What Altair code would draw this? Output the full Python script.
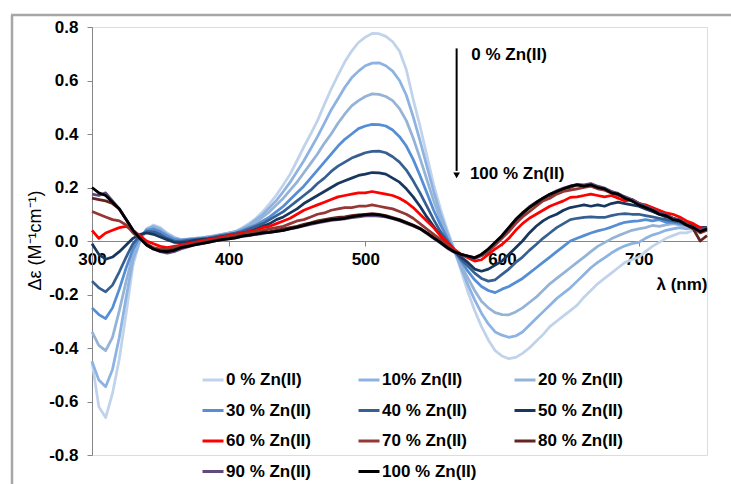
import altair as alt
import pandas as pd

# wavelength grid (nm)
wavelength = list(range(300, 755, 5))

labels = ["0 % Zn(II)", "10% Zn(II)", "20  % Zn(II)", "30 % Zn(II)", "40 % Zn(II)",
          "50 % Zn(II)", "60 % Zn(II)", "70 % Zn(II)", "80 % Zn(II)", "90 % Zn(II)",
          "100 % Zn(II)"]
colors = ["#c0d3ea", "#8db3e2", "#95b3d7", "#558ed5", "#376092", "#17375e",
          "#ff0000", "#953735", "#632523", "#604a7b", "#000000"]

zn0 = [-0.45, -0.62, -0.66, -0.57, -0.44, -0.27, -0.09, 0.00, 0.045, 0.06,
       0.05, 0.03, 0.015, 0.005, 0.008, 0.01, 0.012, 0.015, 0.02, 0.025,
       0.03, 0.036, 0.05, 0.066, 0.085, 0.11, 0.14, 0.172, 0.21, 0.25,
       0.30, 0.352, 0.40, 0.45, 0.51, 0.568, 0.62, 0.67, 0.71, 0.742,
       0.762, 0.776, 0.775, 0.765, 0.745, 0.71, 0.64, 0.53, 0.43, 0.32,
       0.21, 0.12, 0.04, -0.03, -0.11, -0.19, -0.26, -0.32, -0.37, -0.41,
       -0.43, -0.44, -0.435, -0.42, -0.40, -0.375, -0.35, -0.32, -0.30, -0.28,
       -0.26, -0.24, -0.21, -0.185, -0.16, -0.14, -0.12, -0.10, -0.08, -0.07,
       -0.06, -0.04, -0.02, -0.005, 0.01, 0.02, 0.03, 0.03, 0.04, 0.035,
       0.045]
zn10 = [-0.45, -0.52, -0.545, -0.48, -0.36, -0.21, -0.07, 0.00, 0.045, 0.055,
        0.045, 0.025, 0.012, 0.005, 0.006, 0.01, 0.012, 0.015, 0.018, 0.024,
        0.03, 0.035, 0.046, 0.06, 0.08, 0.10, 0.125, 0.152, 0.185, 0.22,
        0.26, 0.30, 0.345, 0.39, 0.44, 0.49, 0.532, 0.575, 0.61, 0.635,
        0.655, 0.665, 0.666, 0.655, 0.635, 0.60, 0.545, 0.465, 0.375, 0.28,
        0.185, 0.10, 0.03, -0.035, -0.10, -0.163, -0.22, -0.27, -0.31, -0.34,
        -0.352, -0.36, -0.355, -0.34, -0.315, -0.29, -0.265, -0.24, -0.215, -0.195,
        -0.175, -0.15, -0.125, -0.10, -0.08, -0.063, -0.045, -0.03, -0.018, -0.01,
        -0.005, 0.01, 0.022, 0.03, 0.04, 0.045, 0.05, 0.045, 0.05, 0.04,
        0.05]
zn20 = [-0.34, -0.39, -0.41, -0.36, -0.26, -0.15, -0.05, 0.01, 0.043, 0.05,
        0.04, 0.022, 0.01, 0.004, 0.006, 0.01, 0.012, 0.015, 0.02, 0.025,
        0.03, 0.034, 0.045, 0.055, 0.07, 0.09, 0.11, 0.135, 0.16, 0.19,
        0.22, 0.255, 0.29, 0.325, 0.365, 0.40, 0.44, 0.475, 0.505, 0.525,
        0.54, 0.55, 0.548, 0.54, 0.525, 0.495, 0.45, 0.385, 0.31, 0.23,
        0.15, 0.08, 0.02, -0.035, -0.09, -0.138, -0.185, -0.225, -0.25, -0.268,
        -0.275, -0.276, -0.265, -0.25, -0.23, -0.21, -0.185, -0.16, -0.14, -0.12,
        -0.10, -0.08, -0.06, -0.04, -0.02, -0.006, 0.008, 0.02, 0.03, 0.04,
        0.045, 0.05, 0.058, 0.055, 0.06, 0.065, 0.06, 0.055, 0.05, 0.045,
        0.05]
zn30 = [-0.25, -0.275, -0.29, -0.25, -0.18, -0.10, -0.03, 0.015, 0.04, 0.045,
        0.035, 0.02, 0.006, 0.002, 0.005, 0.007, 0.01, 0.013, 0.017, 0.022,
        0.025, 0.03, 0.04, 0.05, 0.06, 0.075, 0.09, 0.11, 0.13, 0.155,
        0.18, 0.205, 0.235, 0.265, 0.295, 0.325, 0.355, 0.38, 0.40, 0.42,
        0.43, 0.436, 0.435, 0.43, 0.415, 0.39, 0.355, 0.305, 0.245, 0.18,
        0.115, 0.06, 0.01, -0.035, -0.075, -0.113, -0.145, -0.17, -0.185, -0.193,
        -0.18, -0.17, -0.155, -0.14, -0.12, -0.10, -0.08, -0.06, -0.04, -0.02,
        0.0, 0.01, 0.02, 0.03, 0.038, 0.044, 0.052, 0.062, 0.07, 0.073,
        0.075, 0.08, 0.075, 0.08, 0.07, 0.07, 0.065, 0.06, 0.055, 0.05,
        0.05]
zn40 = [-0.15, -0.175, -0.19, -0.165, -0.115, -0.06, -0.01, 0.02, 0.035, 0.035,
        0.025, 0.01, 0.0, -0.002, 0.002, 0.005, 0.008, 0.01, 0.015, 0.02,
        0.025, 0.03, 0.035, 0.045, 0.055, 0.065, 0.08, 0.095, 0.11, 0.13,
        0.15, 0.17, 0.19, 0.215, 0.235, 0.26, 0.28, 0.295, 0.31, 0.32,
        0.33, 0.335, 0.336, 0.33, 0.315, 0.295, 0.265, 0.225, 0.18, 0.13,
        0.08, 0.035, 0.0, -0.036, -0.068, -0.094, -0.12, -0.14, -0.15, -0.145,
        -0.125, -0.105, -0.08, -0.06, -0.035, -0.013, 0.01, 0.03, 0.05, 0.065,
        0.08, 0.085, 0.088, 0.09, 0.088, 0.088, 0.095, 0.10, 0.102, 0.10,
        0.10, 0.095, 0.09, 0.085, 0.08, 0.075, 0.07, 0.06, 0.055, 0.05,
        0.05]
zn50 = [-0.01, -0.05, -0.068, -0.06, -0.04, -0.015, 0.01, 0.025, 0.03, 0.025,
        0.015, 0.005, -0.005, -0.006, -0.003, 0.002, 0.005, 0.008, 0.012, 0.016,
        0.02, 0.025, 0.03, 0.035, 0.045, 0.055, 0.065, 0.08, 0.09, 0.105,
        0.12, 0.14, 0.155, 0.17, 0.185, 0.20, 0.215, 0.225, 0.235, 0.245,
        0.25, 0.256, 0.255, 0.25, 0.235, 0.22, 0.195, 0.165, 0.13, 0.09,
        0.055, 0.02, -0.01, -0.037, -0.06, -0.08, -0.105, -0.113, -0.105, -0.09,
        -0.075, -0.05, -0.025, 0.0, 0.03, 0.055, 0.075, 0.09, 0.10, 0.115,
        0.125, 0.13, 0.135, 0.13, 0.135, 0.13, 0.14, 0.145, 0.14, 0.135,
        0.13, 0.12, 0.11, 0.10, 0.09, 0.085, 0.075, 0.065, 0.06, 0.05,
        0.05]
zn60 = [0.04, 0.01, 0.03, 0.04, 0.05, 0.055, 0.04, 0.02, 0.0, -0.01,
        -0.02, -0.025, -0.02, -0.015, -0.01, -0.005, 0.0, 0.005, 0.01, 0.015,
        0.02, 0.025, 0.03, 0.035, 0.04, 0.05, 0.055, 0.065, 0.075, 0.085,
        0.10, 0.115, 0.125, 0.135, 0.145, 0.155, 0.165, 0.17, 0.175, 0.18,
        0.18, 0.185, 0.18, 0.175, 0.17, 0.16, 0.145, 0.125, 0.10, 0.075,
        0.05, 0.02, -0.005, -0.03, -0.05, -0.063, -0.075, -0.07, -0.05, -0.03,
        -0.013, 0.01, 0.04, 0.065, 0.085, 0.10, 0.115, 0.13, 0.14, 0.15,
        0.163, 0.165, 0.17, 0.175, 0.17, 0.165, 0.17, 0.16, 0.15, 0.155,
        0.14, 0.135, 0.125, 0.115, 0.105, 0.10, 0.09, 0.075, 0.065, 0.05,
        0.045]
zn70 = [0.11, 0.10, 0.09, 0.08, 0.075, 0.06, 0.03, 0.01, -0.01, -0.025,
        -0.03, -0.03, -0.025, -0.02, -0.015, -0.01, -0.005, 0.0, 0.005, 0.01,
        0.015, 0.02, 0.025, 0.03, 0.035, 0.04, 0.045, 0.05, 0.055, 0.065,
        0.075, 0.08, 0.09, 0.10, 0.105, 0.115, 0.12, 0.125, 0.125, 0.13,
        0.13, 0.135, 0.13, 0.125, 0.12, 0.11, 0.10, 0.085, 0.065, 0.045,
        0.025, 0.005, -0.015, -0.035, -0.05, -0.058, -0.065, -0.055, -0.04, -0.015,
        0.01, 0.035, 0.065, 0.09, 0.11, 0.13, 0.15, 0.16, 0.175, 0.185,
        0.19, 0.195, 0.20, 0.205, 0.195, 0.19, 0.18, 0.17, 0.165, 0.15,
        0.14, 0.13, 0.12, 0.105, 0.10, 0.085, 0.08, 0.065, 0.05, 0.03,
        0.04]
zn80 = [0.16, 0.155, 0.15, 0.14, 0.12, 0.08, 0.04, 0.01, -0.015, -0.03,
        -0.035, -0.037, -0.032, -0.025, -0.02, -0.012, -0.008, -0.003, 0.002, 0.006,
        0.01, 0.015, 0.02, 0.022, 0.027, 0.032, 0.035, 0.04, 0.045, 0.05,
        0.055, 0.062, 0.068, 0.075, 0.08, 0.085, 0.088, 0.09, 0.095, 0.098,
        0.10, 0.102, 0.10, 0.095, 0.088, 0.08, 0.07, 0.06, 0.048, 0.03,
        0.012, -0.005, -0.025, -0.04, -0.05, -0.056, -0.062, -0.05, -0.03, -0.008,
        0.018, 0.048, 0.078, 0.10, 0.125, 0.14, 0.16, 0.17, 0.185, 0.195,
        0.20, 0.21, 0.205, 0.21, 0.20, 0.195, 0.185, 0.175, 0.16, 0.155,
        0.14, 0.125, 0.115, 0.105, 0.095, 0.085, 0.075, 0.06, 0.045, 0.0,
        0.02]
zn90 = [0.175, 0.17, 0.18, 0.15, 0.12, 0.08, 0.04, 0.01, -0.015, -0.03,
        -0.04, -0.045, -0.04, -0.03, -0.022, -0.015, -0.01, -0.005, 0.0, 0.005,
        0.008, 0.012, 0.017, 0.02, 0.025, 0.028, 0.032, 0.036, 0.04, 0.045,
        0.05, 0.056, 0.062, 0.068, 0.072, 0.077, 0.08, 0.083, 0.087, 0.09,
        0.094, 0.095, 0.093, 0.09, 0.083, 0.076, 0.066, 0.056, 0.045, 0.028,
        0.01, -0.008, -0.027, -0.042, -0.052, -0.058, -0.065, -0.052, -0.032, -0.008,
        0.02, 0.05, 0.08, 0.105, 0.128, 0.145, 0.16, 0.175, 0.188, 0.198,
        0.205, 0.212, 0.21, 0.215, 0.205, 0.198, 0.185, 0.178, 0.165, 0.155,
        0.142, 0.13, 0.118, 0.105, 0.098, 0.085, 0.078, 0.062, 0.052, 0.04,
        0.05]
zn100 = [0.20, 0.18, 0.17, 0.145, 0.12, 0.08, 0.04, 0.01, -0.015, -0.03,
         -0.038, -0.04, -0.035, -0.025, -0.02, -0.015, -0.01, -0.005, 0.0, 0.005,
         0.008, 0.012, 0.018, 0.022, 0.026, 0.03, 0.032, 0.036, 0.04, 0.046,
         0.052, 0.058, 0.066, 0.07, 0.075, 0.08, 0.082, 0.085, 0.09, 0.095,
         0.098, 0.10, 0.098, 0.092, 0.085, 0.078, 0.068, 0.058, 0.046, 0.03,
         0.012, -0.005, -0.025, -0.04, -0.05, -0.056, -0.063, -0.05, -0.03, -0.005,
         0.02, 0.05, 0.08, 0.105, 0.125, 0.144, 0.16, 0.175, 0.185, 0.195,
         0.205, 0.21, 0.205, 0.21, 0.20, 0.195, 0.18, 0.175, 0.16, 0.15,
         0.135, 0.125, 0.115, 0.10, 0.095, 0.08, 0.075, 0.06, 0.05, 0.035,
         0.045]

series = [zn0, zn10, zn20, zn30, zn40, zn50, zn60, zn70, zn80, zn90, zn100]

# annotation (arrow + texts)
arrow_x = [566.8]
arrow_top = [0.72]
arrow_bottom = [0.262]
arrow_tip = [0.245]
note_x = [577.5, 576.5]
note_y = [0.695, 0.252]
note_text = ["0 % Zn(II)", "100 % Zn(II)"]

rows = []
for lab, vals in zip(labels, series):
    for w, v in zip(wavelength, vals):
        rows.append({"wl": w, "de": v, "series": lab})
df = pd.DataFrame(rows)

FONT = "Liberation Sans"

xscale = alt.Scale(domain=[300, 750], nice=False, zero=False)
yscale = alt.Scale(domain=[-0.8, 0.8], nice=False, zero=False)

lines = alt.Chart(df).mark_line(strokeWidth=2.75, strokeJoin="round").encode(
    x=alt.X("wl:Q", scale=xscale,
            axis=alt.Axis(values=[300, 400, 500, 600, 700], offset=-214,
                          grid=False, domainColor="#868686", tickColor="#868686",
                          tickSize=5, labelFontSize=17, labelFont=FONT,
                          labelFontWeight="bold", labelColor="black",
                          labelPadding=5, labelFlush=False,
                          title="λ (nm)", titleFont=FONT, titleFontSize=17,
                          titleFontWeight="bold", titleColor="black",
                          titleX=615, titleY=43, titleAlign="right",
                          titleBaseline="middle")),
    y=alt.Y("de:Q", scale=yscale,
            axis=alt.Axis(values=[-0.8, -0.6, -0.4, -0.2, 0.0, 0.2, 0.4, 0.6, 0.8],
                          labelExpr="replace(format(datum.value, '.1f'), '\u2212', '-')",
                          grid=False, domainColor="#868686", tickColor="#868686",
                          tickSize=5, labelFontSize=17, labelFont=FONT,
                          labelFontWeight="bold", labelColor="black",
                          labelPadding=9,
                          title="Δε (M⁻¹cm⁻¹)", titleFont=FONT, titleFontSize=18,
                          titleFontWeight="normal", titleColor="black",
                          titleAngle=270, titleX=-57, titleY=213,
                          titleAlign="center", titleBaseline="middle")),
    color=alt.Color("series:N",
                    scale=alt.Scale(domain=labels, range=colors),
                    legend=alt.Legend(title=None, orient="none", legendX=109,
                                      legendY=341, columns=3, direction="horizontal",
                                      gridAlign="all",
                                      columnPadding=31, rowPadding=10.5,
                                      symbolType="stroke", symbolSize=441,
                                      symbolStrokeWidth=3, labelOffset=1,
                                      labelFont=FONT, labelFontSize=17,
                                      labelFontWeight="bold", labelColor="black",
                                      labelLimit=300, padding=0)),
    order=alt.Order("wl:Q"),
)

arrow_df = pd.DataFrame({"x": arrow_x, "y": arrow_top, "y2": arrow_bottom, "tip": arrow_tip})
arrow = alt.Chart(arrow_df).mark_rule(color="black", strokeWidth=2).encode(
    x=alt.X("x:Q", scale=xscale), y=alt.Y("y:Q", scale=yscale), y2="y2:Q")
head = alt.Chart(arrow_df).mark_point(shape="triangle-down", filled=True, size=45,
                                      color="black", opacity=1).encode(
    x=alt.X("x:Q", scale=xscale), y=alt.Y("tip:Q", scale=yscale))

notes_df = pd.DataFrame({"x": note_x, "y": note_y, "t": note_text})
notes = alt.Chart(notes_df).mark_text(align="left", baseline="middle", font=FONT,
                                      fontSize=17, fontWeight="bold",
                                      color="black").encode(
    x=alt.X("x:Q", scale=xscale), y=alt.Y("y:Q", scale=yscale), text="t:N")

frame_df = pd.DataFrame({"a": [0]})
frame_left = alt.Chart(frame_df).mark_rule(color="#a6a6a6", strokeWidth=2.5).encode(
    x=alt.value(-80), y=alt.value(-12), y2=alt.value(470))
frame_top = alt.Chart(frame_df).mark_rule(color="#a6a6a6", strokeWidth=2.5).encode(
    x=alt.value(-81), x2=alt.value(650), y=alt.value(-12))

chart = alt.layer(lines, arrow, head, notes, frame_left, frame_top).properties(
    width=615, height=428,
    autosize=alt.AutoSizeParams(type="none"),
    padding={"left": 92, "top": 27, "right": 24, "bottom": 29},
).configure_view(stroke=None).configure(background="white")

chart.save("out.html", embed_options={"renderer": "svg", "actions": False})
